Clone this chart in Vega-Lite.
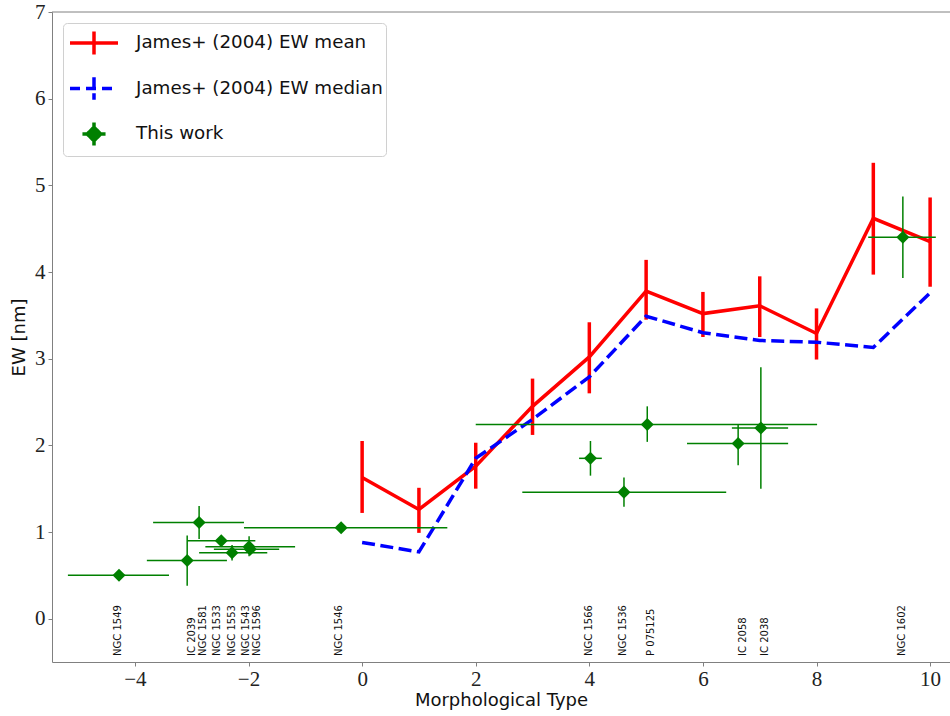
{
  "$schema": "https://vega.github.io/schema/vega-lite/v6.json",
  "width": 898,
  "height": 650,
  "autosize": {"type": "none"},
  "padding": {"left": 52, "top": 12, "right": 0, "bottom": 54},
  "background": "white",
  "config": {
    "view": {"stroke": null},
    "axis": {
      "domainColor": "#808080",
      "tickColor": "#808080",
      "labelFont": "Liberation Serif",
      "labelFontSize": 21,
      "labelColor": "#222222",
      "titleFont": "DejaVu Sans",
      "titleFontSize": 18,
      "titleFontWeight": "normal",
      "titleColor": "#111111",
      "grid": false,
      "tickSize": 4
    },
    "legend": {
      "orient": "top-left",
      "offset": 11,
      "padding": 3,
      "fillColor": "rgba(255,255,255,0.85)",
      "strokeColor": "#d0d0d0",
      "cornerRadius": 4,
      "labelFont": "DejaVu Sans",
      "labelFontSize": 18.3,
      "labelColor": "#111111",
      "labelOffset": 25,
      "labelLimit": 400,
      "rowPadding": 7.5,
      "symbolOffset": 11,
      "symbolSize": 900
    }
  },
  "datasets": {
    "mean": [
      {"t": 0, "ew": 1.63, "lo": 1.22, "hi": 2.05},
      {"t": 1, "ew": 1.26, "lo": 0.99, "hi": 1.51},
      {"t": 2, "ew": 1.76, "lo": 1.50, "hi": 2.03},
      {"t": 3, "ew": 2.45, "lo": 2.12, "hi": 2.77},
      {"t": 4, "ew": 3.02, "lo": 2.60, "hi": 3.42},
      {"t": 5, "ew": 3.78, "lo": 3.45, "hi": 4.14},
      {"t": 6, "ew": 3.52, "lo": 3.25, "hi": 3.77},
      {"t": 7, "ew": 3.61, "lo": 3.25, "hi": 3.95},
      {"t": 8, "ew": 3.29, "lo": 2.99, "hi": 3.58},
      {"t": 9, "ew": 4.62, "lo": 3.97, "hi": 5.26},
      {"t": 10, "ew": 4.35, "lo": 3.83, "hi": 4.86}
    ],
    "median": [
      {"t": 0, "ew": 0.88},
      {"t": 1, "ew": 0.77},
      {"t": 2, "ew": 1.85},
      {"t": 3, "ew": 2.30},
      {"t": 4, "ew": 2.79},
      {"t": 5, "ew": 3.49},
      {"t": 6, "ew": 3.30},
      {"t": 7, "ew": 3.21},
      {"t": 8, "ew": 3.19},
      {"t": 9, "ew": 3.13},
      {"t": 10, "ew": 3.76}
    ],
    "obs": [
      {"name": "NGC 1549", "x": -4.28, "y": 0.50, "xlo": -5.18, "xhi": -3.40, "ylo": 0.49, "yhi": 0.51, "lx": -4.30},
      {"name": "IC 2039", "x": -3.08, "y": 0.67, "xlo": -3.79, "xhi": -2.38, "ylo": 0.38, "yhi": 0.96, "lx": -2.99},
      {"name": "NGC 1581", "x": -2.87, "y": 1.11, "xlo": -3.68, "xhi": -2.08, "ylo": 0.92, "yhi": 1.30, "lx": -2.80},
      {"name": "NGC 1533", "x": -2.48, "y": 0.90, "xlo": -3.08, "xhi": -1.88, "ylo": 0.87, "yhi": 0.93, "lx": -2.55},
      {"name": "NGC 1553", "x": -2.29, "y": 0.76, "xlo": -2.87, "xhi": -1.67, "ylo": 0.67, "yhi": 0.85, "lx": -2.29},
      {"name": "NGC 1543", "x": -1.99, "y": 0.83, "xlo": -2.76, "xhi": -1.18, "ylo": 0.72, "yhi": 0.95, "lx": -2.04},
      {"name": "NGC 1596", "x": -1.97, "y": 0.80, "xlo": -2.61, "xhi": -1.46, "ylo": 0.74, "yhi": 0.86, "lx": -1.85},
      {"name": "NGC 1546", "x": -0.37, "y": 1.05, "xlo": -2.08, "xhi": 1.50, "ylo": 1.04, "yhi": 1.06, "lx": -0.40},
      {"name": "NGC 1566", "x": 4.02, "y": 1.85, "xlo": 3.82, "xhi": 4.22, "ylo": 1.65, "yhi": 2.05, "lx": 4.00},
      {"name": "NGC 1536", "x": 4.61, "y": 1.46, "xlo": 2.82, "xhi": 6.41, "ylo": 1.29, "yhi": 1.63, "lx": 4.60},
      {"name": "P 075125", "x": 5.02, "y": 2.24, "xlo": 2.00, "xhi": 8.01, "ylo": 2.04, "yhi": 2.45, "lx": 5.09},
      {"name": "IC 2058", "x": 6.62, "y": 2.02, "xlo": 5.72, "xhi": 7.50, "ylo": 1.77, "yhi": 2.24, "lx": 6.71},
      {"name": "IC 2038", "x": 7.02, "y": 2.20, "xlo": 6.51, "xhi": 7.50, "ylo": 1.50, "yhi": 2.90, "lx": 7.10},
      {"name": "NGC 1602", "x": 9.52, "y": 4.40, "xlo": 8.91, "xhi": 10.10, "ylo": 3.93, "yhi": 4.87, "lx": 9.51}
    ],
    "frame": [{"edge": "top"}],
    "legend": []
  },
  "layer": [
    {
      "data": {"name": "mean"},
      "mark": {"type": "line", "color": "#ff0000", "strokeWidth": 3.5},
      "encoding": {
        "x": {"field": "t", "type": "quantitative", "scale": {"domain": [-5.46, 10.35], "nice": false, "zero": false},
              "axis": {"orient": "bottom", "title": "Morphological Type", "values": [-4, -2, 0, 2, 4, 6, 8, 10], "format": "d", "labelPadding": 2, "titlePadding": 2}},
        "y": {"field": "ew", "type": "quantitative", "scale": {"domain": [-0.5, 7], "nice": false, "zero": false},
              "axis": {"orient": "left", "title": "EW [nm]", "values": [0, 1, 2, 3, 4, 5, 6, 7], "format": "d", "labelPadding": 3, "titlePadding": 6}}
      }
    },
    {
      "data": {"name": "mean"},
      "mark": {"type": "rule", "color": "#ff0000", "strokeWidth": 3.5},
      "encoding": {
        "x": {"field": "t", "type": "quantitative"},
        "y": {"field": "lo", "type": "quantitative"},
        "y2": {"field": "hi"}
      }
    },
    {
      "data": {"name": "median"},
      "mark": {"type": "line", "color": "#0000ff", "strokeWidth": 3.5, "strokeDash": [13, 5.5]},
      "encoding": {
        "x": {"field": "t", "type": "quantitative"},
        "y": {"field": "ew", "type": "quantitative"}
      }
    },
    {
      "data": {"name": "obs"},
      "mark": {"type": "rule", "color": "#008000", "strokeWidth": 1.5},
      "encoding": {
        "x": {"field": "xlo", "type": "quantitative"},
        "x2": {"field": "xhi"},
        "y": {"field": "y", "type": "quantitative"}
      }
    },
    {
      "data": {"name": "obs"},
      "mark": {"type": "rule", "color": "#008000", "strokeWidth": 1.5},
      "encoding": {
        "x": {"field": "x", "type": "quantitative"},
        "y": {"field": "ylo", "type": "quantitative"},
        "y2": {"field": "yhi"}
      }
    },
    {
      "data": {"name": "obs"},
      "mark": {"type": "point", "shape": "diamond", "filled": true, "color": "#008000", "opacity": 1, "size": 170},
      "encoding": {
        "x": {"field": "x", "type": "quantitative"},
        "y": {"field": "y", "type": "quantitative"}
      }
    },
    {
      "data": {"name": "obs"},
      "mark": {"type": "text", "angle": 270, "align": "left", "baseline": "middle", "font": "DejaVu Sans", "fontSize": 10, "color": "#111111"},
      "encoding": {
        "x": {"field": "lx", "type": "quantitative"},
        "y": {"datum": -0.43, "type": "quantitative"},
        "text": {"field": "name", "type": "nominal"}
      }
    },
    {
      "data": {"name": "frame"},
      "mark": {"type": "rule", "color": "#808080", "strokeWidth": 1},
      "encoding": {
        "y": {"datum": 7, "type": "quantitative"}
      }
    },
    {
      "data": {"name": "legend"},
      "mark": {"type": "point", "filled": true, "opacity": 1},
      "encoding": {
        "x": {"field": "x", "type": "quantitative"},
        "y": {"field": "y", "type": "quantitative"},
        "fill": {"field": "series", "type": "nominal",
                 "scale": {"domain": ["James+ (2004) EW mean", "James+ (2004) EW median", "This work"], "range": ["#ff0000", "#0000ff", "#008000"]},
                 "legend": {"title": null}},
        "stroke": {"field": "series", "type": "nominal",
                   "scale": {"domain": ["James+ (2004) EW mean", "James+ (2004) EW median", "This work"], "range": ["#ff0000", "#0000ff", "#008000"]},
                   "legend": {"title": null}},
        "shape": {"field": "series", "type": "nominal",
                  "scale": {"domain": ["James+ (2004) EW mean", "James+ (2004) EW median", "This work"],
                            "range": ["M-1.6,0H1.6M0,-0.77V0.77", "M-1.6,0H1.6M0,-0.75V0.75", "M-0.77,0H0.77M0,-0.77V0.77M0,-0.45L0.45,0L0,0.45L-0.45,0Z"]},
                  "legend": {"title": null}},
        "strokeDash": {"field": "series", "type": "nominal",
                       "scale": {"domain": ["James+ (2004) EW mean", "James+ (2004) EW median", "This work"], "range": [[1, 0], [10, 6], [1, 0]]},
                       "legend": {"title": null}},
        "strokeWidth": {"field": "series", "type": "nominal",
                        "scale": {"domain": ["James+ (2004) EW mean", "James+ (2004) EW median", "This work"], "range": [3.5, 3.5, 1.5]},
                        "legend": {"title": null}}
      }
    }
  ]
}
